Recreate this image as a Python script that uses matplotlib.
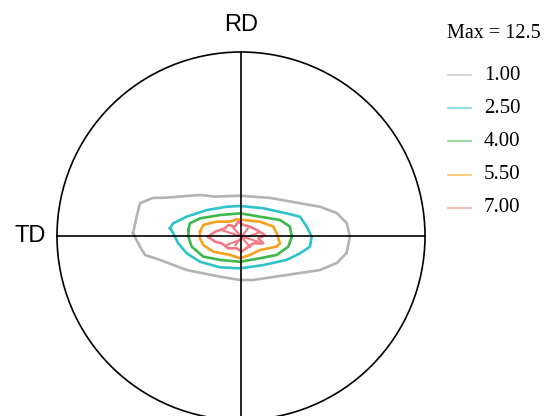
import numpy as np
import matplotlib
matplotlib.use("Agg")
import matplotlib.pyplot as plt
from matplotlib.patches import Circle

# contour levels and colours (pole figure, max = 12.5)
levels = [1.00, 2.50, 4.00, 5.50, 7.00]
level_colors = ['#b3b3b3', '#2fc2cb', '#3db84b', '#f6a21d', '#f27a86']
max_label = 'Max = 12.5'

# contour outlines, in units of the pole figure radius
c1_x = [-0.587, -0.567, -0.549, -0.478, -0.413, -0.223, -0.141, -0.005, 0.158, 0.429, 0.520, 0.574,
        0.592, 0.574, 0.520, 0.429, 0.248, 0.065, -0.005, -0.114, -0.295, -0.440, -0.522, -0.549]
c1_y = [0.016, 0.105, 0.178, 0.207, 0.208, 0.223, 0.214, 0.219, 0.207, 0.159, 0.125, 0.071,
        -0.004, -0.092, -0.147, -0.185, -0.212, -0.239, -0.239, -0.221, -0.185, -0.130, -0.103, -0.058]

c2_x = [-0.386, -0.368, -0.295, -0.186, -0.078, -0.005, 0.121, 0.248, 0.321, 0.357, 0.384,
        0.375, 0.321, 0.248, 0.121, -0.005, -0.114, -0.223, -0.295, -0.341, -0.368]
c2_y = [0.042, 0.069, 0.105, 0.141, 0.159, 0.163, 0.151, 0.123, 0.105, 0.051, -0.004,
        -0.058, -0.094, -0.130, -0.158, -0.176, -0.170, -0.140, -0.094, -0.040, 0.015]

c3_x = [-0.286, -0.277, -0.223, -0.114, -0.005, 0.103, 0.212, 0.266, 0.276, 0.257, 0.194,
        0.103, -0.005, -0.114, -0.205, -0.268, -0.286]
c3_y = [0.033, 0.069, 0.096, 0.114, 0.123, 0.105, 0.087, 0.051, -0.004, -0.058, -0.103,
        -0.121, -0.140, -0.130, -0.112, -0.058, -0.004]

c4_x = [-0.223, -0.205, -0.132, -0.060, -0.023, 0.013, 0.103, 0.176, 0.194, 0.212, 0.194,
        0.103, 0.049, -0.005, -0.060, -0.151, -0.205, -0.223]
c4_y = [0.023, 0.060, 0.078, 0.078, 0.091, 0.087, 0.078, 0.051, 0.015, -0.040, -0.058,
        -0.076, -0.103, -0.121, -0.103, -0.085, -0.049, -0.013]

c5_x = [-0.178, -0.141, -0.087, -0.069, -0.033, -0.015, 0.013, 0.049, 0.085, 0.130, 0.094,
        0.121, 0.067, 0.040, 0.004, -0.023, -0.069, -0.105, -0.141]
c5_y = [-0.004, 0.023, 0.042, 0.060, 0.051, 0.078, 0.060, 0.051, 0.033, 0.005, -0.013,
        -0.040, -0.040, -0.058, -0.085, -0.067, -0.067, -0.040, -0.031]

# short inner strokes of the 7.00 contour
spoke_x0 = [-0.100, -0.050, 0.040, -0.080]
spoke_y0 = [0.030, 0.055, 0.045, -0.050]
spoke_x1 = [0.090, 0.050, -0.030, 0.100]
spoke_y1 = [-0.030, -0.060, -0.050, 0.020]

contours = [(c1_x, c1_y), (c2_x, c2_y), (c3_x, c3_y), (c4_x, c4_y), (c5_x, c5_y)]

# figure: 544x416 px, circle centre (241, 236) px, radius 184 px
W, H = 544, 416
cx, cy, R = 241, 236, 184
fig = plt.figure(figsize=(W / 100, H / 100), dpi=100)
ax = fig.add_axes([0, 0, 1, 1])
ax.set_xlim(-cx / R, (W - cx) / R)
ax.set_ylim(-(H - cy) / R, cy / R)
ax.set_aspect('equal')
ax.axis('off')

for (xs, ys), col in zip(contours, level_colors):
    xs = list(xs) + [xs[0]]
    ys = list(ys) + [ys[0]]
    ax.plot(xs, ys, color=col, lw=1.9, solid_joinstyle='round', zorder=2)

for x0, y0, x1, y1 in zip(spoke_x0, spoke_y0, spoke_x1, spoke_y1):
    ax.plot([x0, x1], [y0, y1], color=level_colors[-1], lw=1.5, zorder=2)

ax.add_patch(Circle((0, 0), 1, fill=False, ec='black', lw=1.2, zorder=3))
ax.plot([-1, 1], [0, 0], color='black', lw=1.2, zorder=3)
ax.plot([0, 0], [-1, 1], color='black', lw=1.2, zorder=3)

ax.text(0, 1.146, 'RD', ha='center', va='center', fontsize=17, family='Liberation Sans')
ax.text(-1.148, 0, 'TD', ha='center', va='center', fontsize=17, family='Liberation Sans')

# legend, drawn by hand in figure pixels
fig.text(447 / W, 1 - 33 / H, max_label, ha='left', va='center', fontsize=14.5, family='Liberation Serif')
for i, (lev, col) in enumerate(zip(levels, level_colors)):
    yy = 1 - (75 + 33.2 * i) / H
    fig.add_artist(plt.Line2D([448 / W, 471 / W], [yy, yy], color=col, lw=1.1, alpha=0.7))
    fig.text(484 / W, yy, f'{lev:.2f}', ha='left', va='center', fontsize=15, family='Liberation Serif')

fig.savefig('out.png', dpi=100, facecolor='white')
